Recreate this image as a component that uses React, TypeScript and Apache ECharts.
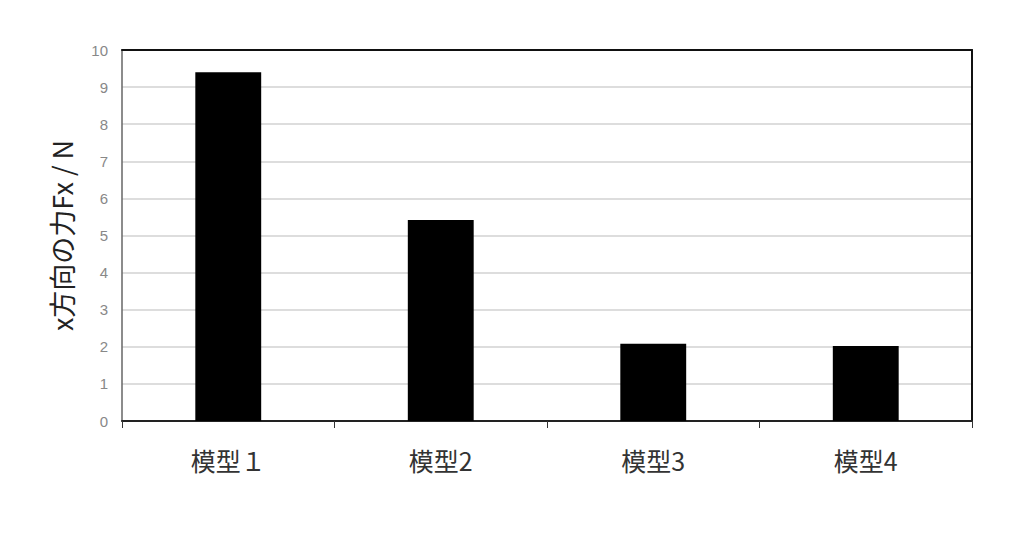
import { useEffect, useRef } from "react";
import * as echarts from "echarts";

const categories = ["模型１", "模型2", "模型3", "模型4"];
const forceValues = [9.4, 5.42, 2.08, 2.02];
const yTitle = "x方向の力Fx / N";

export default function App() {
  const ref = useRef<HTMLDivElement | null>(null);

  useEffect(() => {
    if (!ref.current) {
      return;
    }
    const chart = echarts.init(ref.current, undefined, { renderer: "svg" });
    chart.setOption({
      animation: false,
      backgroundColor: "#fff",
      grid: {
        left: 114,
        right: 44,
        top: 42,
        bottom: 106
      },
      xAxis: [
        {
          type: "category",
          data: categories,
          axisLine: { lineStyle: { color: "#222", width: 2 } },
          axisTick: { show: true, length: 7, lineStyle: { color: "#333", width: 1 } },
          axisLabel: {
            margin: 26,
            fontSize: 25,
            color: "#333",
            fontFamily: "Noto Sans CJK JP"
          }
        },
        {
          type: "category",
          position: "top",
          data: categories,
          axisLine: { onZero: false, lineStyle: { color: "#111", width: 2 } },
          axisTick: { show: false },
          axisLabel: { show: false }
        }
      ],
      yAxis: [
        {
          type: "value",
          min: 0,
          max: 10,
          interval: 1,
          name: yTitle,
          nameLocation: "middle",
          nameGap: 47,
          nameTextStyle: {
            fontSize: 27,
            color: "#222",
            fontFamily: "Noto Sans CJK JP"
          },
          axisLine: { show: true, lineStyle: { color: "#666", width: 1.5 } },
          axisTick: { show: false },
          axisLabel: {
            margin: 14,
            fontSize: 15,
            color: "#888",
            fontFamily: "Liberation Sans Narrow, Liberation Sans"
          },
          splitLine: {
            showMaxLine: false,
            showMinLine: false,
            lineStyle: { color: "#ddd", width: 2 }
          }
        },
        {
          type: "value",
          position: "right",
          min: 0,
          max: 10,
          interval: 1,
          axisLine: { show: true, onZero: false, lineStyle: { color: "#111", width: 2 } },
          axisTick: { show: false },
          axisLabel: { show: false },
          splitLine: { show: false }
        }
      ],
      series: [
        {
          type: "bar",
          data: forceValues,
          barWidth: "31%",
          itemStyle: { color: "#000" },
          z: 3
        }
      ]
    });
    return () => {
      chart.dispose();
    };
  }, []);

  return <div ref={ref} style={{ width: 1008, height: 519 }} />;
}
